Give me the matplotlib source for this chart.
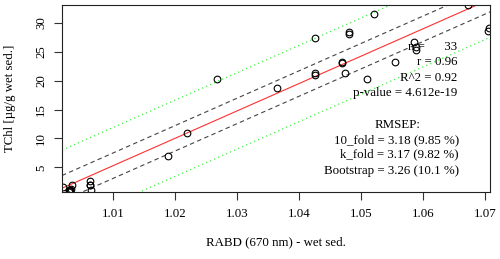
import numpy as np
import matplotlib
matplotlib.use("Agg")
import matplotlib.pyplot as plt

rabd = [1.0019, 1.0033, 1.0030, 1.0030, 1.0029, 1.0031, 1.0028,
        1.0062, 1.0062, 1.0064, 1.0189, 1.0219, 1.0267, 1.0365,
        1.0426, 1.0426, 1.0426, 1.0469, 1.0469, 1.0474, 1.0481,
        1.0481, 1.0510, 1.0521, 1.0554, 1.0585, 1.0588, 1.0589,
        1.0673, 1.0705, 1.0706, 1.0030, 1.0062]
tchl = [1.6, 1.9, 1.1, 0.9, 1.0, 1.2, 0.8,
        2.6, 2.0, 1.1, 6.95, 10.9, 20.3, 18.7,
        27.3, 21.3, 21.0, 23.3, 23.0, 21.3, 28.4,
        28.0, 20.3, 31.5, 23.2, 26.7, 25.8, 25.3,
        33.0, 28.6, 29.1, 1.0, 2.0]

# fitted model and bands
fit_intercept = 0.565   # value at RABD = 1
fit_slope = 473.4
ci_halfwidth = 2.2
pi_halfwidth = 6.6

x_ticks = [1.01, 1.02, 1.03, 1.04, 1.05, 1.06, 1.07]
y_ticks = [5, 10, 15, 20, 25, 30]

stats_lines = ["n =      33", "r = 0.96", "R^2 = 0.92", "p-value = 4.612e-19"]
rmsep_lines = ["10_fold = 3.18 (9.85 %)", "k_fold = 3.17 (9.82 %)",
               "Bootstrap = 3.26 (10.1 %)"]

plt.rcParams["font.family"] = ["Liberation Serif", "DejaVu Serif"]
plt.rcParams["font.size"] = 9.3

fig = plt.figure(figsize=(5, 2.59), dpi=100)
ax = fig.add_axes([0.124, 0.2587, 0.856, 0.722])

xlim = (1.00172, 1.0708)
ax.set_xlim(*xlim)
ax.set_ylim(0.73, 33.08)

xx = np.array(xlim)
yy = fit_intercept + fit_slope * (xx - 1)
ax.plot(xx, yy, color="#ff3030", lw=0.8)
for off in (ci_halfwidth, -ci_halfwidth):
    ax.plot(xx, yy + off, color="#444444", lw=0.8, ls=(0, (4, 3)))
for off in (pi_halfwidth, -pi_halfwidth):
    ax.plot(xx, yy + off, color="#44ee44", lw=0.9, ls=(0, (1, 2.5)))

ax.plot(rabd, tchl, "o", mfc="none", mec="black", ms=4.8, mew=0.8)

ax.set_xticks(x_ticks)
ax.set_xticklabels([f"{t:.2f}" for t in x_ticks])
ax.set_yticks(y_ticks)
ax.set_yticklabels([str(t) for t in y_ticks], rotation=90, va="center")
ax.tick_params(direction="out", length=5.8, width=0.8, color="#333333")
ax.tick_params(axis="x", pad=6.0)
ax.tick_params(axis="y", pad=5.0)
for s in ax.spines.values():
    s.set_linewidth(0.8)
    s.set_color("#222222")

ax.set_xlabel("RABD (670 nm) - wet sed.")
ax.xaxis.set_label_coords(0.5, -0.235)
ax.set_ylabel("TChl [µg/g wet sed.]")
ax.yaxis.set_label_coords(-0.1075, 0.5)

for txt, yf in zip(stats_lines, [0.775, 0.694, 0.611, 0.528]):
    ax.text(0.923, yf, txt, transform=ax.transAxes, ha="right", va="center")
ax.text(0.785, 0.358, "RMSEP:", transform=ax.transAxes, ha="center", va="center")
for txt, yf in zip(rmsep_lines, [0.278, 0.2016, 0.114]):
    ax.text(0.9276, yf, txt, transform=ax.transAxes, ha="right", va="center")

fig.savefig("out.png", dpi=100)
